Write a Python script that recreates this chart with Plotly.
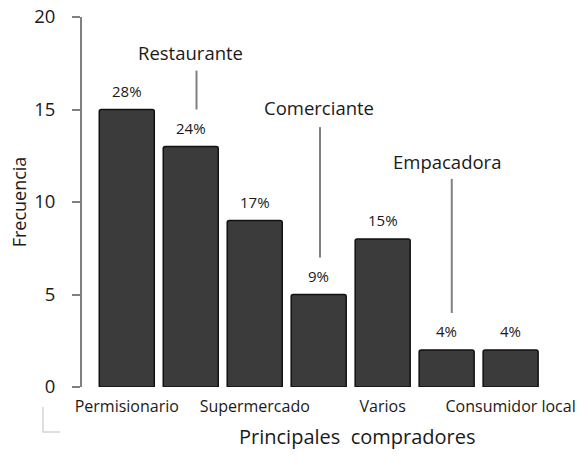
import plotly.graph_objects as go

categories = ["Permisionario", "Restaurante", "Supermercado", "Comerciante",
              "Varios", "Empacadora", "Consumidor local"]
frecuencia = [15, 13, 9, 5, 8, 2, 2]
porcentaje = ["28%", "24%", "17%", "9%", "15%", "4%", "4%"]
y_ticks = [0, 5, 10, 15, 20]

FONT = "Open Sans"
TXT = "#1a1a1a"
GRAY = "#808080"

fig = go.Figure()
fig.add_trace(go.Bar(
    x=categories, y=frecuencia,
    marker=dict(color="#3b3b3b", line=dict(color="#111111", width=1.5), cornerradius=2),
    hoverinfo="skip",
))

# percentage labels above bars
for c, v, p in zip(categories, frecuencia, porcentaje):
    fig.add_annotation(x=c, y=v, text=p, showarrow=False, yanchor="middle",
                       yshift=19, font=dict(family=FONT, size=15, color=TXT))

# callout labels for odd categories (placed above with leader lines)
callouts = [(1, 0.0, 0.09, 2.0, 4.1, 5.1), (3, 0.0, 0.02, 2.0, 9.05, 10.1),
            (5, 0.0, 0.08, 2.0, 9.25, 10.2)]
for idx, tdx, ldx, lb, lt, ty in callouts:
    v = frecuencia[idx]
    fig.add_shape(type="line", xref="x", yref="y", x0=idx + ldx, x1=idx + ldx,
                  y0=v + lb, y1=v + lt, line=dict(color=GRAY, width=2))
    fig.add_annotation(x=idx + tdx, y=v + ty, text=categories[idx], showarrow=False,
                       yanchor="middle", font=dict(family=FONT, size=18.5, color=TXT))

# small bracket artifact bottom-left
fig.add_shape(type="path", xref="paper", yref="paper",
              path="M -0.0835,-0.054 L -0.0835,-0.1216 L -0.047,-0.1216",
              line=dict(color="#d4d4d4", width=1.5))

fig.add_annotation(text="Principales  compradores", xref="paper", yref="paper",
                   x=0.59, y=-0.135, xanchor="center", yanchor="middle", showarrow=False,
                   font=dict(family=FONT, size=20, color=TXT))

fig.update_layout(
    width=577, height=468,
    margin=dict(l=82, r=28, t=17, b=81),
    plot_bgcolor="white", paper_bgcolor="white",
    showlegend=False, bargap=0.14,
    font=dict(family=FONT, color=TXT),
)
fig.update_xaxes(
    type="category", range=[-0.7, 6.6], automargin=False,
    tickvals=categories[::2], ticktext=categories[::2],
    showline=False, showgrid=False, ticks="", zeroline=False,
    ticklabelstandoff=8,
    tickfont=dict(family=FONT, size=16, color=TXT),
)
fig.update_yaxes(
    range=[0, 20], tickvals=y_ticks, showgrid=False, zeroline=False, automargin=False,
    showline=True, linecolor=GRAY, linewidth=2,
    ticks="outside", ticklen=8, tickwidth=2, tickcolor=GRAY,
    ticklabelstandoff=13,
    tickfont=dict(family=FONT, size=18.5, color=TXT),
    title=dict(text="Frecuencia", font=dict(family=FONT, size=18, color=TXT), standoff=3),
)

fig.write_html("out.html", config={"displayModeBar": False},
               post_script="document.body.style.margin='0';document.body.style.overflow='hidden';")
